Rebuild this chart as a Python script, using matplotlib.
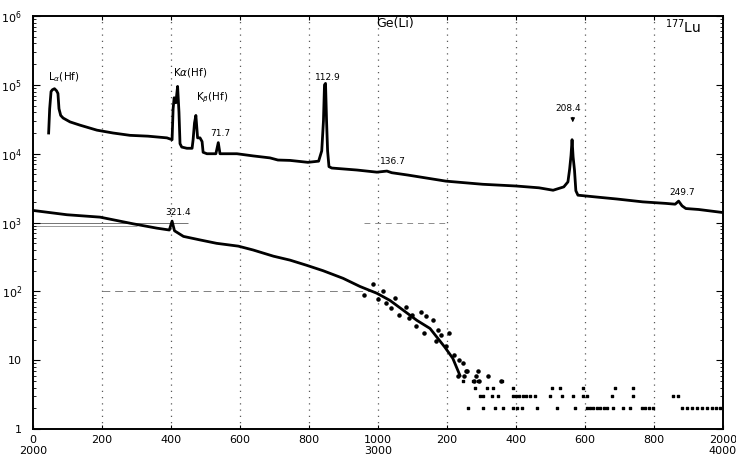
import matplotlib
matplotlib.use('Agg')
import matplotlib.pyplot as plt
from matplotlib.ticker import LogLocator, NullFormatter

# upper trace: channels 0-2000 (Lu-177 Ge(Li) spectrum, low gain part)
upper_ch = [45, 48, 52, 56, 62, 68, 72, 75, 80, 87, 107, 136, 185, 232, 281, 333,
            388, 403, 406, 409, 414, 419, 423, 426, 431, 446, 461, 464, 468, 472,
            477, 484, 490, 493, 504, 530, 537, 542, 591, 638, 687, 710, 745, 797,
            828, 837, 842, 845, 848, 851, 854, 858, 866, 939, 997, 1026, 1040, 1087,
            1197, 1304, 1400, 1467, 1508, 1539, 1551, 1556, 1560, 1563, 1566, 1570,
            1574, 1580, 1634, 1693, 1768, 1835, 1862, 1872, 1882, 1893, 1930, 2000]
upper_counts = [2.0e4, 4.5e4, 8.0e4, 8.5e4, 8.8e4, 8.2e4, 7.5e4, 4.5e4, 3.6e4, 3.3e4,
                2.9e4, 2.6e4, 2.2e4, 2.0e4, 1.85e4, 1.8e4, 1.7e4, 1.6e4, 4.5e4, 6.5e4,
                5.5e4, 9.5e4, 4.0e4, 1.4e4, 1.25e4, 1.2e4, 1.2e4, 1.6e4, 2.8e4, 3.6e4,
                1.7e4, 1.7e4, 1.5e4, 1.05e4, 1.0e4, 1.0e4, 1.45e4, 1.0e4, 1.0e4, 9.3e3,
                8.7e3, 8.1e3, 8.0e3, 7.5e3, 7.8e3, 1.1e4, 3.0e4, 1.0e5, 1.05e5, 3.0e4,
                1.1e4, 6.5e3, 6.2e3, 5.8e3, 5.4e3, 5.6e3, 5.3e3, 4.9e3, 4.0e3, 3.6e3,
                3.4e3, 3.2e3, 2.95e3, 3.3e3, 3.9e3, 6.0e3, 9.5e3, 1.6e4, 9.0e3, 5.8e3,
                2.9e3, 2.5e3, 2.35e3, 2.2e3, 2.0e3, 1.9e3, 1.85e3, 2.05e3, 1.75e3, 1.6e3,
                1.55e3, 1.4e3]

# lower trace: channels 2000-4000 (plotted against 0-2000)
lower_ch = [0, 98, 194, 290, 359, 395, 403, 410, 436, 484, 532, 595, 638, 697, 745,
            793, 841, 899, 948, 997, 1035, 1072, 1113, 1151, 1194, 1217, 1238]
lower_counts = [1500, 1300, 1200, 960, 830, 780, 1050, 760, 630, 560, 500, 455, 400,
                325, 285, 240, 200, 155, 118, 94, 74, 54, 38, 29, 15.5, 10.7, 6]

# scattered single-channel points of the lower trace
scatter_ch = [960, 985, 1000, 1015, 1023, 1038, 1050, 1061, 1080, 1090, 1100, 1110,
              1125, 1133, 1139, 1160, 1168, 1175, 1183, 1197, 1206, 1220, 1235, 1246,
              1232, 1250, 1255, 1283, 1290, 1319, 1357, 1278, 1293, 1258]
scatter_counts = [90, 130, 78, 100, 67, 57, 80, 46, 60, 41, 45, 32, 50, 25, 44, 38, 19,
                  28, 23, 16, 25, 12, 10, 9, 6, 6, 7, 6, 7, 6, 5, 5, 5, 7]

tail2_ch = [1261, 1304, 1339, 1362, 1391, 1403, 1417, 1461, 1519, 1571, 1606, 1615,
            1625, 1635, 1645, 1655, 1665, 1681, 1710, 1730, 1765, 1775, 1785, 1797,
            1881, 1896, 1910, 1925, 1940, 1955, 1970, 1980, 1991]
tail3_ch = [1296, 1304, 1330, 1348, 1391, 1400, 1410, 1420, 1430, 1440, 1455, 1499,
            1533, 1565, 1594, 1606, 1678, 1739, 1855, 1870]
tail4_ch = [1281, 1316, 1333, 1391, 1504, 1528, 1594, 1687, 1739]
tail5_ch = [1246, 1275, 1290, 1359]

x_ticks = [0, 200, 400, 600, 800, 1000, 1200, 1400, 1600, 1800, 2000]
x_labels = ['0\n2000', '200', '400', '600', '800', '1000\n3000',
            '200', '400', '600', '800', '2000\n4000']
y_ticks = [1, 10, 1e2, 1e3, 1e4, 1e5, 1e6]
y_labels = ['1', '10', '10$^2$', '10$^3$', '10$^4$', '10$^5$', '10$^6$']

fig = plt.figure(figsize=(7.36, 4.58), dpi=100)
ax = fig.add_axes([0.045, 0.063, 0.937, 0.902])

for xg in x_ticks[1:-1]:
    ax.axvline(xg, color='0.35', lw=0.9, ls=(0, (1, 4)), zorder=1)
ax.hlines(1e3, 0, 450, color='0.45', lw=0.7, zorder=1)
ax.hlines(900, 0, 300, color='0.55', lw=0.6, zorder=1)
ax.hlines(1e2, 200, 1000, color='0.5', lw=0.7, ls=(0, (8, 5)), zorder=1)
ax.hlines(1e3, 960, 1200, color='0.55', lw=0.7, ls=(0, (6, 5)), zorder=1)

ax.plot(upper_ch, upper_counts, color='black', lw=2.0, zorder=3)
ax.plot(lower_ch, lower_counts, color='black', lw=2.0, zorder=3)
ax.scatter(scatter_ch, scatter_counts, s=5, color='black', zorder=3)
ax.scatter(tail2_ch, [2] * len(tail2_ch), s=4, marker='s', color='black', zorder=3)
ax.scatter(tail3_ch, [3] * len(tail3_ch), s=4, marker='s', color='black', zorder=3)
ax.scatter(tail4_ch, [4] * len(tail4_ch), s=4, marker='s', color='black', zorder=3)
ax.scatter(tail5_ch, [5] * len(tail5_ch), s=4, marker='s', color='black', zorder=3)

ax.set_yscale('log')
ax.set_xlim(0, 2000)
ax.set_ylim(1, 1e6)
ax.set_xticks(x_ticks)
ax.set_xticklabels(x_labels, fontsize=8)
ax.set_yticks(y_ticks)
ax.set_yticklabels(y_labels, fontsize=8)
ax.yaxis.set_minor_locator(LogLocator(base=10, subs=range(2, 10)))
ax.yaxis.set_minor_formatter(NullFormatter())
ax.tick_params(axis='both', which='both', direction='in', right=True, top=True)
ax.tick_params(axis='y', which='major', length=5, pad=8)
ax.tick_params(axis='y', which='minor', length=2.5)
ax.tick_params(axis='x', length=3, pad=4)
for sp in ax.spines.values():
    sp.set_linewidth(1.4)

fs = 7.5
ax.text(1049, 7.8e5, 'Ge(Li)', ha='center', va='center', fontsize=9)
ax.text(1833, 7.0e5, '$^{177}$Lu', ha='left', va='center', fontsize=10)
ax.text(90, 1.3e5, 'L$_\\alpha$(Hf)', ha='center', va='center', fontsize=fs)
ax.text(455, 1.5e5, 'K$\\alpha$(Hf)', ha='center', va='center', fontsize=fs)
ax.text(519, 6.5e4, 'K$_\\beta$(Hf)', ha='center', va='center', fontsize=fs)
ax.text(542, 2.0e4, '71.7', ha='center', va='center', fontsize=fs - 1)
ax.text(855, 1.3e5, '112.9', ha='center', va='center', fontsize=fs - 1)
ax.text(1043, 7.6e3, '136.7', ha='center', va='center', fontsize=fs - 1)
ax.text(1553, 4.5e4, '208.4', ha='center', va='center', fontsize=fs - 1)
ax.annotate('', xy=(1565, 2.6e4), xytext=(1565, 3.7e4),
            arrowprops=dict(arrowstyle='-|>', color='black', lw=0.8, mutation_scale=6))
ax.text(1883, 2.75e3, '249.7', ha='center', va='center', fontsize=fs - 1)
ax.text(421, 1.4e3, '321.4', ha='center', va='center', fontsize=fs - 1)

fig.savefig('out.png', dpi=100)
